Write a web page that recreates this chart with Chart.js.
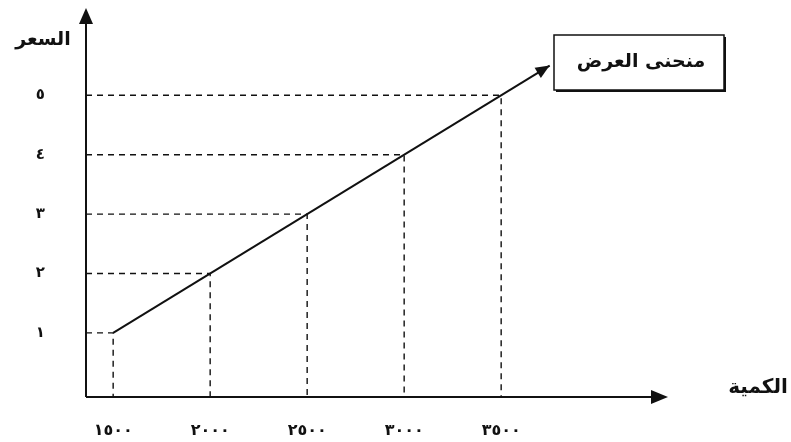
<!DOCTYPE html>
<html lang="ar">
  <head>
    <meta charset="UTF-8" />
    <script src="https://cdn.jsdelivr.net/npm/chart.js@4.4.0/dist/chart.umd.min.js"></script>
    <title>منحنى العرض</title>
    <style>
      body {
        margin: 0;
        padding: 0;
        background: white;
      }

      .container {
        width: 791px;
        height: 442px;
        position: relative;
      }
    </style>
  </head>
  <body>
    <div class="container">
      <canvas id="supply"></canvas>
    </div>
    <script>
      // supply schedule
      const quantities = [1500, 2000, 2500, 3000, 3500]
      const prices = [1, 2, 3, 4, 5]
      const xTicks = [1500, 2000, 2500, 3000, 3500]
      const yTicks = [1, 2, 3, 4, 5]
      // where the drawn curve ends (arrow head)
      const curveEnd = { x: 3750, y: 5.5 }

      const xMin = 1360
      const xMax = 4360
      const yMin = -0.08
      const yMax = 6.47

      const arabic = (n) =>
        String(n).replace(/\d/g, (d) => '٠١٢٣٤٥٦٧٨٩'[d])

      const FONT = '"DejaVu Sans", sans-serif'

      const guides = quantities.map((q, i) => ({
        data: [
          { x: xMin, y: prices[i] },
          { x: q, y: prices[i] },
          { x: q, y: yMin },
        ],
        showLine: true,
        borderColor: '#111',
        borderWidth: 1.4,
        borderDash: [6, 5],
        pointRadius: 0,
        clip: false,
      }))

      const arrowHead = (ctx, x0, y0, x1, y1, len, half) => {
        const a = Math.atan2(y1 - y0, x1 - x0)
        ctx.beginPath()
        ctx.moveTo(x1, y1)
        ctx.lineTo(
          x1 - len * Math.cos(a) + half * Math.sin(a),
          y1 - len * Math.sin(a) - half * Math.cos(a)
        )
        ctx.lineTo(
          x1 - len * Math.cos(a) - half * Math.sin(a),
          y1 - len * Math.sin(a) + half * Math.cos(a)
        )
        ctx.closePath()
        ctx.fill()
      }

      const decorations = {
        id: 'decorations',
        afterDraw(chart) {
          const { ctx, chartArea: a, scales } = chart
          ctx.save()
          ctx.strokeStyle = '#111'
          ctx.fillStyle = '#111'
          ctx.lineWidth = 2
          ctx.setLineDash([])

          // axes
          ctx.beginPath()
          ctx.moveTo(a.left, a.bottom)
          ctx.lineTo(a.left, a.top + 12)
          ctx.moveTo(a.left, a.bottom)
          ctx.lineTo(a.right - 12, a.bottom)
          ctx.stroke()
          arrowHead(ctx, a.left, a.bottom, a.left, a.top, 16, 7)
          arrowHead(ctx, a.left, a.bottom, a.right, a.bottom, 17, 7)

          // arrow at the end of the curve
          const px0 = scales.x.getPixelForValue(quantities[quantities.length - 1])
          const py0 = scales.y.getPixelForValue(prices[prices.length - 1])
          const px1 = scales.x.getPixelForValue(curveEnd.x)
          const py1 = scales.y.getPixelForValue(curveEnd.y)
          arrowHead(ctx, px0, py0, px1, py1, 14, 6)

          // axis names
          ctx.font = 'bold 19px ' + FONT
          ctx.textAlign = 'center'
          ctx.textBaseline = 'middle'
          ctx.fillText('السعر', 43, 40)
          ctx.font = 'bold 20px ' + FONT
          ctx.fillText('الكمية', 758, 388)

          // label box
          ctx.fillRect(556, 37, 170, 55)
          ctx.fillStyle = 'white'
          ctx.fillRect(554, 35, 170, 55)
          ctx.lineWidth = 1.5
          ctx.strokeRect(554, 35, 170, 55)
          ctx.fillStyle = '#111'
          ctx.font = 'bold 19px ' + FONT
          ctx.fillText('منحنى العرض', 641, 62)
          ctx.restore()
        },
      }

      new Chart(document.getElementById('supply'), {
        type: 'scatter',
        data: {
          datasets: [
            {
              data: [
                { x: quantities[0], y: prices[0] },
                { x: curveEnd.x, y: curveEnd.y },
              ],
              showLine: true,
              borderColor: '#111',
              borderWidth: 2,
              pointRadius: 0,
              clip: false,
            },
            ...guides,
          ],
        },
        options: {
          responsive: true,
          maintainAspectRatio: false,
          animation: false,
          layout: {
            padding: { top: 8, right: 123, left: 0, bottom: 0 },
          },
          plugins: {
            legend: { display: false },
            tooltip: { enabled: false },
          },
          scales: {
            x: {
              type: 'linear',
              min: xMin,
              max: xMax,
              grid: { display: false, drawTicks: false },
              border: { display: false },
              afterBuildTicks: (s) => {
                s.ticks = xTicks.map((v) => ({ value: v }))
              },
              afterFit: (s) => {
                s.height = 45
                s.paddingLeft = 0
                s.paddingRight = 0
              },
              ticks: {
                callback: (v) => arabic(v),
                color: '#111',
                padding: 24,
                maxRotation: 0,
                font: { family: FONT, size: 16, weight: 'bold' },
              },
            },
            y: {
              type: 'linear',
              min: yMin,
              max: yMax,
              grid: { display: false, drawTicks: false },
              border: { display: false },
              afterBuildTicks: (s) => {
                s.ticks = yTicks.map((v) => ({ value: v }))
              },
              afterFit: (s) => {
                s.width = 86
                s.paddingTop = 0
                s.paddingBottom = 0
              },
              ticks: {
                callback: (v) => arabic(v),
                color: '#111',
                padding: 41,
                font: { family: FONT, size: 15, weight: 'bold' },
              },
            },
          },
        },
        plugins: [decorations],
      })
    </script>
  </body>
</html>
